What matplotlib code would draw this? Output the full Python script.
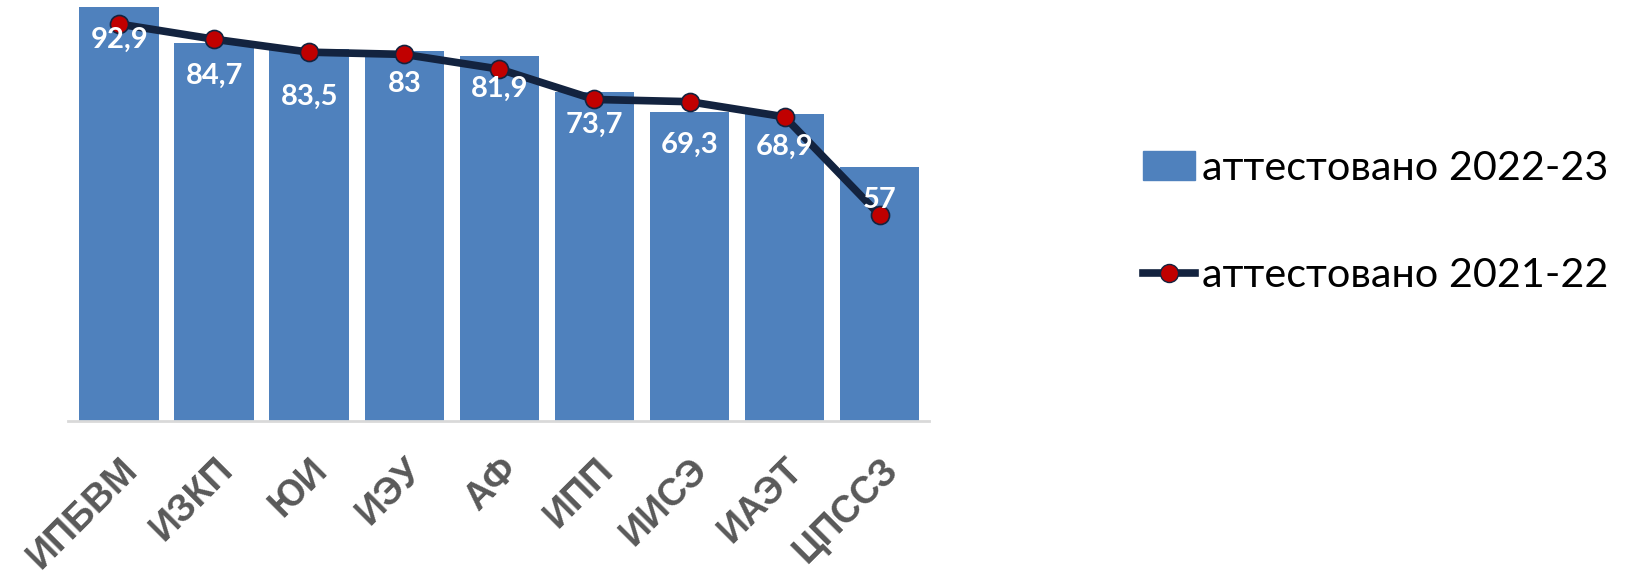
import matplotlib.pyplot as plt
from matplotlib.lines import Line2D
from matplotlib.patches import Patch

# --- data ---
categories = ['ИПБВМ', 'ИЗКП', 'ЮИ', 'ИЭУ', 'АФ', 'ИПП', 'ИИСЭ', 'ИАЭТ', 'ЦПССЗ']
values_2022_23 = [92.9, 84.7, 83.5, 83.0, 81.9, 73.7, 69.3, 68.9, 57.0]
values_2021_22 = [89.0, 85.6, 82.7, 82.2, 78.9, 72.1, 71.6, 68.2, 46.2]
value_labels = ['92,9', '84,7', '83,5', '83', '81,9', '73,7', '69,3', '68,9', '57']
legend_labels = ['аттестовано 2022-23', 'аттестовано 2021-22']

bar_color = '#4F81BD'
line_color = '#13233F'
marker_color = '#C00000'

fig = plt.figure(figsize=(16.27, 5.75), dpi=100)
ax = fig.add_axes([68 / 1627, (575 - 421) / 575, (929 - 68) / 1627, 421 / 575])

x = list(range(len(categories)))
ax.bar(x, values_2022_23, width=0.84, color=bar_color, zorder=1)
ax.plot(x, values_2021_22, color=line_color, linewidth=5.5, marker='o',
        markersize=13, markerfacecolor=marker_color, markeredgecolor=line_color,
        markeredgewidth=1.2, zorder=3)

# value labels inside the top of the bars
for i, (v, lab) in enumerate(zip(values_2022_23, value_labels)):
    off = -48 if i == 2 else -33
    ax.annotate(lab, (i, v), xytext=(0, off), textcoords='offset pixels',
                ha='center', va='center', color='white', fontsize=21,
                fontweight='bold', family='Lato', zorder=4)

ax.set_xlim(-0.54, 8.52)
ax.set_ylim(0, 94.4)
ax.set_yticks([])
for s in ['top', 'right', 'left']:
    ax.spines[s].set_visible(False)
ax.spines['bottom'].set_color('#D9D9D9')
ax.spines['bottom'].set_linewidth(2)
ax.set_xticks(x)
ax.set_xticklabels(categories, rotation=45, ha='right', rotation_mode='anchor',
                   fontsize=27, fontweight='bold', color='#595959',
                   family='Liberation Sans')
ax.tick_params(axis='x', length=0, pad=22)

handles = [Patch(color=bar_color),
           Line2D([0], [0], color=line_color, linewidth=5.5, marker='o',
                  markersize=13, markerfacecolor=marker_color,
                  markeredgecolor=line_color)]
fig.legend(handles, legend_labels, loc='center left',
           bbox_to_anchor=(1106 / 1627, 1 - 222 / 575), frameon=False,
           prop={'family': 'Lato', 'size': 29.8}, handlelength=1.25,
           handletextpad=0.18, labelspacing=1.7)

fig.savefig('out.png', dpi=100)
